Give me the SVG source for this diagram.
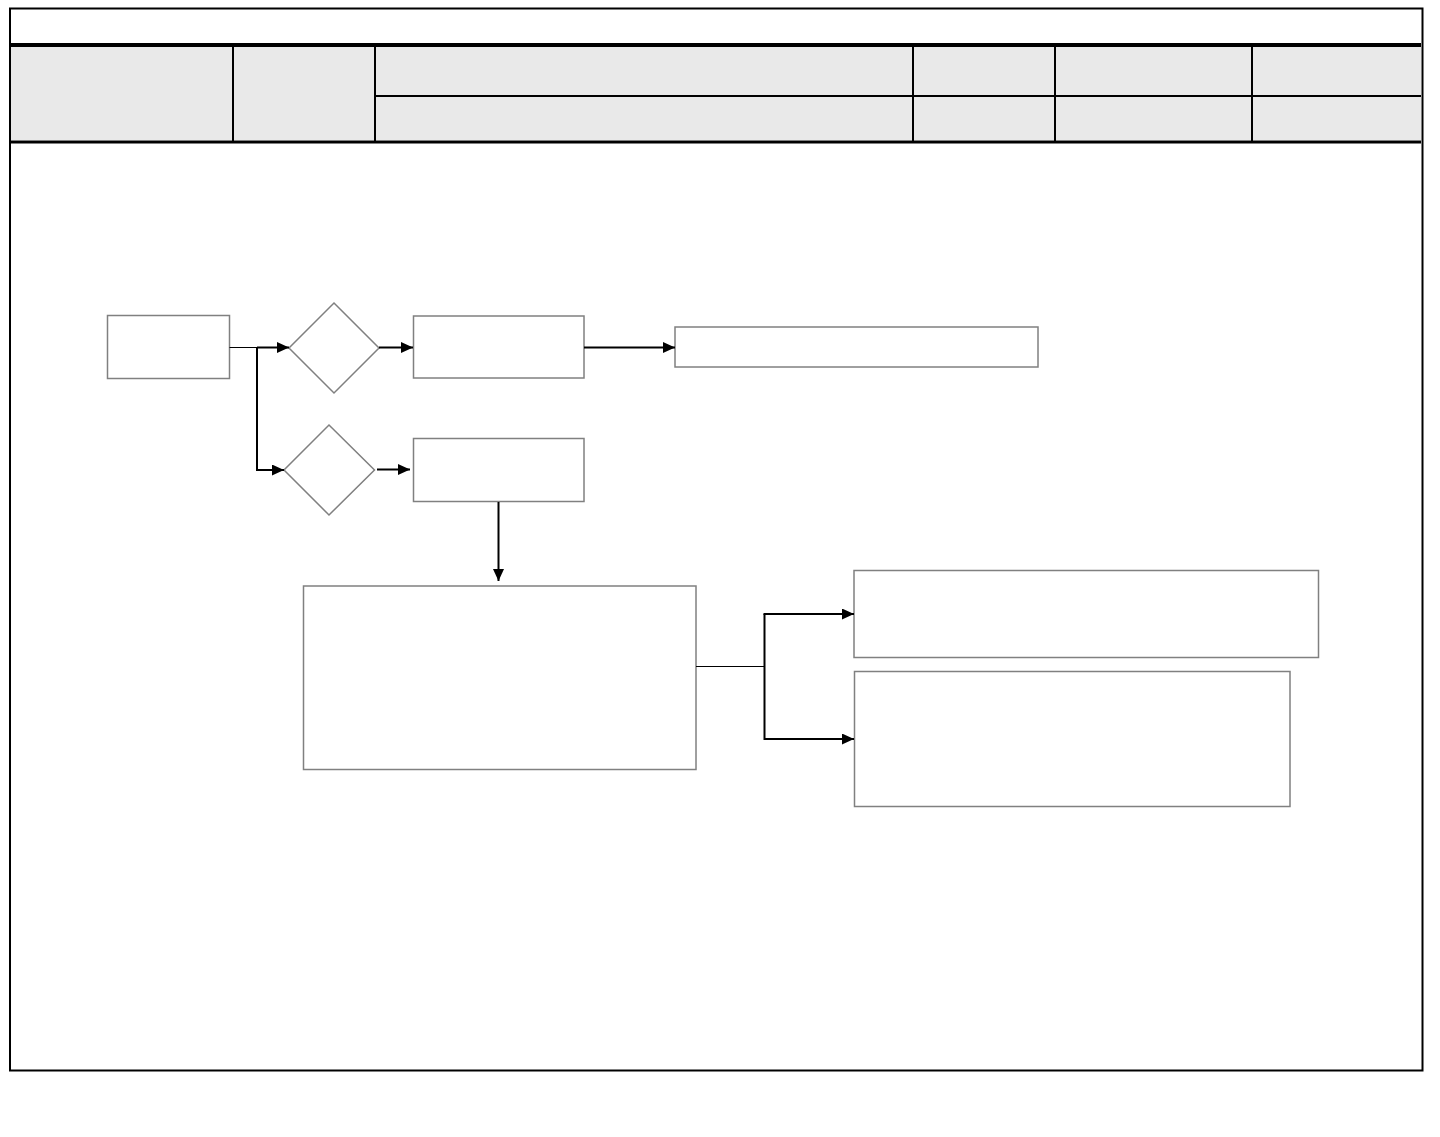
<svg xmlns="http://www.w3.org/2000/svg" width="1440" height="1137" viewBox="0 0 1440 1137">
<style>
.node{fill:#ffffff;stroke:#808080;stroke-width:1.5}
.con{fill:none;stroke:#000000;stroke-width:2}
.thin{fill:none;stroke:#000000;stroke-width:1}
.hl{stroke:#000000;fill:none}
</style>
<defs>
<marker id="arr" markerUnits="userSpaceOnUse" markerWidth="13" markerHeight="12" refX="12" refY="5.5" orient="auto">
<path d="M0,0 L12,5.5 L0,11 z" fill="#000000"/>
</marker>
</defs>
<rect x="0" y="0" width="1440" height="1137" fill="#ffffff"/>
<g id="frame">
<rect x="10" y="8.5" width="1412.5" height="1062" fill="none" stroke="#000000" stroke-width="2"/>
<rect x="11" y="47" width="1410" height="93" fill="#e9e9e9"/>
<line class="hl" x1="10" y1="45" x2="1421" y2="45" stroke-width="4"/>
<line class="hl" x1="10" y1="142" x2="1421" y2="142" stroke-width="3"/>
<line class="hl" x1="375" y1="96" x2="1421" y2="96" stroke-width="2"/>
<line class="hl" x1="233" y1="47" x2="233" y2="141" stroke-width="2"/>
<line class="hl" x1="375" y1="47" x2="375" y2="141" stroke-width="2"/>
<line class="hl" x1="913" y1="47" x2="913" y2="141" stroke-width="2"/>
<line class="hl" x1="1055" y1="47" x2="1055" y2="141" stroke-width="2"/>
<line class="hl" x1="1252" y1="47" x2="1252" y2="141" stroke-width="2"/>
</g>
<g id="node-a"><rect class="node" x="107.5" y="315.5" width="122" height="63"/></g>
<g id="node-d1"><polygon class="node" points="334,303 379,348 334,393 289,348"/></g>
<g id="node-d2"><polygon class="node" points="329,425 374.5,470 329,515 284,470"/></g>
<g id="node-b"><rect class="node" x="413.5" y="316" width="170.5" height="62"/></g>
<g id="node-c"><rect class="node" x="413.5" y="438.5" width="170.5" height="63"/></g>
<g id="node-d"><rect class="node" x="675" y="327" width="363" height="40"/></g>
<g id="node-e"><rect class="node" x="303.5" y="586" width="392.5" height="183.5"/></g>
<g id="node-f"><rect class="node" x="854" y="570.5" width="464.5" height="87"/></g>
<g id="node-g"><rect class="node" x="854.5" y="671.5" width="435.5" height="135"/></g>
<g id="connectors">
<line class="thin" x1="229.5" y1="347.5" x2="257" y2="347.5"/>
<line class="con" x1="257" y1="347.5" x2="289" y2="347.5" marker-end="url(#arr)"/>
<polyline class="con" points="257,347.5 257,470 284,470" marker-end="url(#arr)"/>
<line class="con" x1="379" y1="347.5" x2="413" y2="347.5" marker-end="url(#arr)"/>
<line class="con" x1="377" y1="469.5" x2="410" y2="469.5" marker-end="url(#arr)"/>
<line class="con" x1="584" y1="347.5" x2="675" y2="347.5" marker-end="url(#arr)"/>
<line class="con" x1="498.5" y1="502" x2="498.5" y2="581" marker-end="url(#arr)"/>
<line class="thin" x1="696" y1="666.5" x2="764" y2="666.5"/>
<polyline class="con" points="764.5,614 764.5,739 854,739" marker-end="url(#arr)"/>
<line class="con" x1="763.5" y1="614" x2="854" y2="614" marker-end="url(#arr)"/>
</g>
</svg>
